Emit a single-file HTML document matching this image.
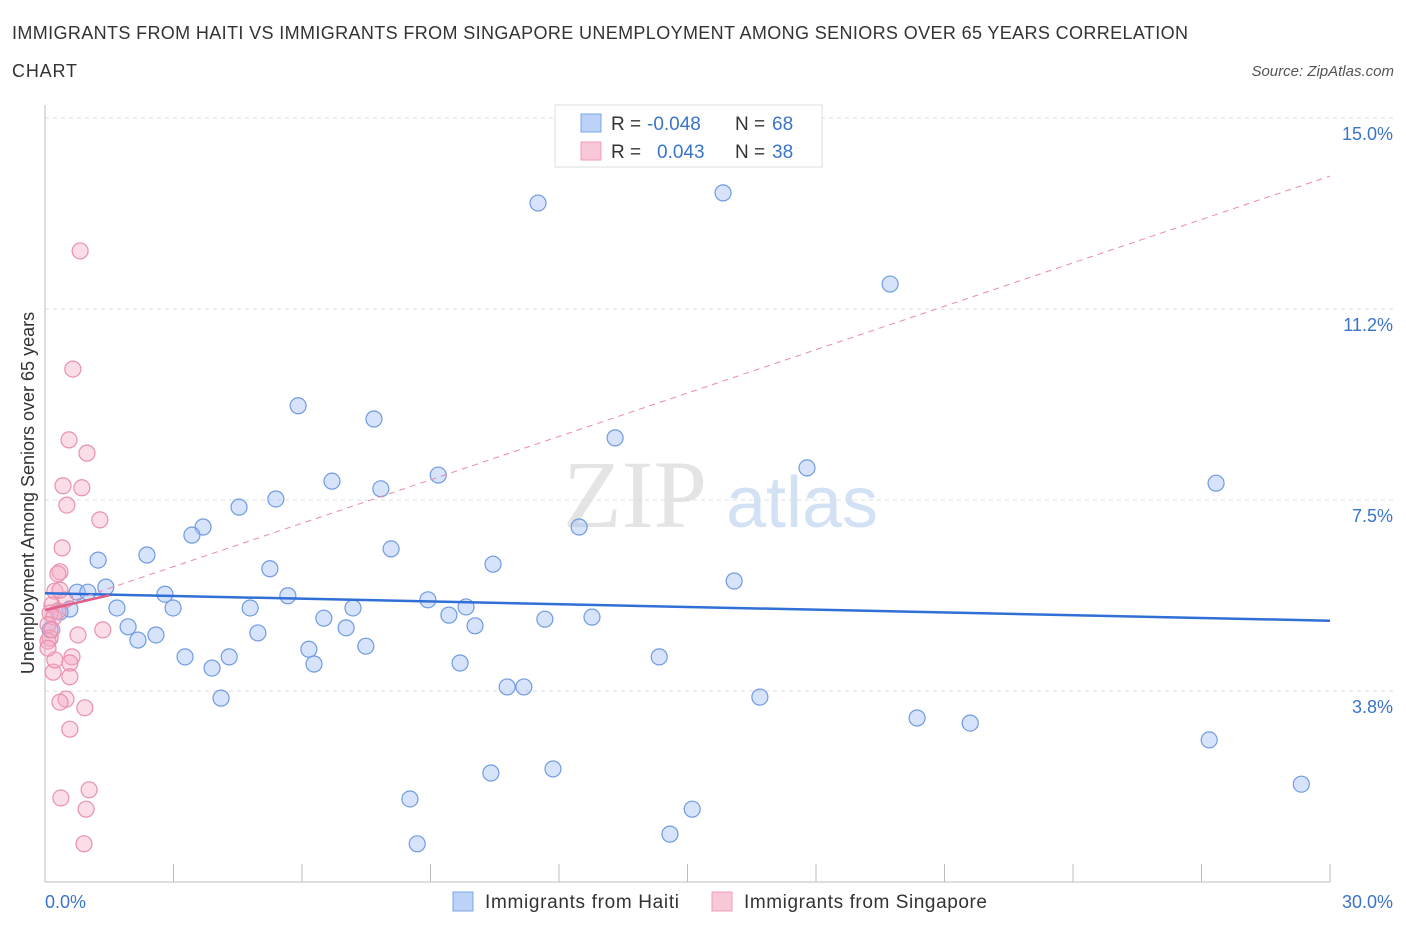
<!DOCTYPE html>
<html><head><meta charset="utf-8"><style>
body{margin:0;background:#fff;font-family:"Liberation Sans",sans-serif;}
</style></head><body>
<svg width="1406" height="930" xmlns="http://www.w3.org/2000/svg" style="font-family:'Liberation Sans',sans-serif">
<text x="12" y="39" font-size="18" fill="#333" textLength="1176" lengthAdjust="spacing">IMMIGRANTS FROM HAITI VS IMMIGRANTS FROM SINGAPORE UNEMPLOYMENT AMONG SENIORS OVER 65 YEARS CORRELATION</text>
<text x="12" y="77" font-size="18" fill="#333" textLength="65">CHART</text>
<text x="1394" y="76" font-size="15" fill="#555" font-style="italic" text-anchor="end">Source: ZipAtlas.com</text>
<text x="635" y="527" font-size="96" fill="#e4e4e4" font-family="Liberation Serif" text-anchor="middle">ZIP</text>
<text x="802" y="527" font-size="72" fill="#d3e1f4" text-anchor="middle">atlas</text>
<g id="grid"></g>
<line x1="45" y1="105" x2="45" y2="882" stroke="#bbb"/>
<line x1="45" y1="882" x2="1330" y2="882" stroke="#bbb"/>
<g id="ticks"></g>
<text x="28" y="493" font-size="18" fill="#333" text-anchor="middle" transform="rotate(-90 28 493)" dy="6">Unemployment Among Seniors over 65 years</text>
<text x="45" y="908" font-size="18" fill="#3a74c9">0.0%</text>
<text x="1393" y="908" font-size="18" fill="#3a74c9" text-anchor="end">30.0%</text>
<g id="pts"></g>
<g id="lines"></g>
<g>
<rect x="555" y="105" width="267" height="62" fill="#fff" stroke="#ddd"/>
<rect x="581" y="114" width="20" height="18" fill="#bcd3f7" stroke="#7aa4e4"/>
<rect x="581" y="142" width="20" height="18" fill="#f9c8d7" stroke="#ee9db8"/>
<text x="611" y="130" font-size="19" fill="#333">R =</text>
<text x="647" y="130" font-size="19" fill="#3a74c9">-0.048</text>
<text x="735" y="130" font-size="19" fill="#333">N =</text>
<text x="772" y="130" font-size="19" fill="#3a74c9">68</text>
<text x="611" y="158" font-size="19" fill="#333">R =</text>
<text x="657" y="158" font-size="19" fill="#3a74c9">0.043</text>
<text x="735" y="158" font-size="19" fill="#333">N =</text>
<text x="772" y="158" font-size="19" fill="#3a74c9">38</text>
</g>
<g>
<rect x="453" y="892" width="20" height="19" fill="#bcd3f7" stroke="#7aa4e4"/>
<text x="485" y="908" font-size="19" fill="#333" textLength="194">Immigrants from Haiti</text>
<rect x="712" y="892" width="20" height="19" fill="#f9c8d7" stroke="#ee9db8"/>
<text x="744" y="908" font-size="19" fill="#333" textLength="243">Immigrants from Singapore</text>
</g>
</svg>
<script>
const yTicks=[3.75,7.5,11.25,15];
const yTickLabels=["3.8%","7.5%","11.2%","15.0%"];
const xTicks=[0,3,6,9,12,15,18,21,24,27,30];
const haitiX=[11.51,15.83,19.73,5.91,7.68,13.31,17.79,27.34,9.18,6.70,7.84,5.39,4.53,3.69,3.43,12.47,8.08,2.38,1.24,10.46,5.25,16.09,1.42,0.75,1.00,2.80,5.67,8.94,1.68,2.99,4.79,7.19,9.83,0.58,0.35,9.43,6.51,11.67,12.77,10.04,1.94,7.03,2.59,2.17,4.97,7.49,6.16,3.27,4.30,14.34,3.90,6.28,9.69,4.11,10.79,11.18,16.69,20.36,21.60,27.18,10.41,11.86,8.52,15.11,29.33,14.59,8.69,0.12];
const haitiY=[13.33,13.53,11.74,9.35,9.09,8.72,8.13,7.83,7.99,7.87,7.72,7.52,7.36,6.97,6.81,6.97,6.54,6.42,6.32,6.24,6.15,5.91,5.79,5.69,5.69,5.65,5.62,5.54,5.38,5.38,5.38,5.38,5.40,5.36,5.30,5.24,5.18,5.16,5.20,5.03,5.01,4.99,4.85,4.75,4.89,4.63,4.57,4.42,4.42,4.42,4.20,4.28,4.30,3.61,3.83,3.83,3.63,3.22,3.12,2.79,2.14,2.22,1.63,1.43,1.92,0.94,0.75,4.95];
const singX=[0.82,0.65,0.56,0.98,0.42,0.86,0.51,1.28,0.40,0.35,0.30,0.23,0.47,0.16,0.30,0.12,0.21,0.07,0.77,1.35,0.12,0.07,0.63,0.58,0.19,0.58,0.49,0.35,0.93,0.58,1.03,0.37,0.96,0.91,0.23,0.16,0.07,0.35];
const singY=[12.39,10.07,8.68,8.42,7.78,7.74,7.40,7.11,6.56,6.09,6.05,5.71,5.54,5.44,5.32,5.28,5.20,5.05,4.85,4.95,4.79,4.73,4.42,4.30,4.12,4.03,3.59,3.53,3.42,3.00,1.81,1.65,1.43,0.75,4.36,4.95,4.59,5.73];
const haitiTrend=[5.67,5.13];
const singTrend=[5.34,13.86];
const singSolid=[5.34,5.63];
const singSolidEnd=1.5;
const NS="http://www.w3.org/2000/svg";
const X=v=>45+v/30*1285, Y=v=>882-v/15*764;
function mk(t,a,p){const e=document.createElementNS(NS,t);for(const k in a)e.setAttribute(k,a[k]);p.appendChild(e);return e;}
const grid=document.getElementById('grid'),ticks=document.getElementById('ticks'),pts=document.getElementById('pts'),lines=document.getElementById('lines');
yTicks.forEach((v,i)=>{
const l=mk('line',{x1:45,x2:1394,y1:Y(v),y2:Y(v),stroke:'#ddd','stroke-dasharray':'4,4'},grid);


const t=mk('text',{x:1393,y:Y(v)+22,'font-size':18,fill:'#3a74c9','text-anchor':'end'},grid);
t.textContent=yTickLabels[i];


});
xTicks.forEach(v=>{
const l=mk('line',{x1:X(v),x2:X(v),y1:864,y2:882,stroke:'#bbb'},ticks);


});
haitiX.forEach((x,i)=>{
const c=mk('circle',{cx:X(x),cy:Y(haitiY[i]),r:8,fill:'rgba(164,194,244,0.45)',stroke:'#6f9be0','stroke-width':1.2},pts);


});
singX.forEach((x,i)=>{
const c=mk('circle',{cx:X(x),cy:Y(singY[i]),r:8,fill:'rgba(244,170,195,0.4)',stroke:'#e890ae','stroke-width':1.2},pts);


});
const l1=mk('line',{x1:X(0),y1:Y(haitiTrend[0]),x2:X(30),y2:Y(haitiTrend[1]),stroke:'#2f6fd6','stroke-width':2.5},lines);


const l2=mk('line',{x1:X(0),y1:Y(singTrend[0]),x2:X(30),y2:Y(singTrend[1]),stroke:'#e98aa9','stroke-width':1,'stroke-dasharray':'6,5'},lines);


const l3=mk('line',{x1:X(0),y1:Y(singSolid[0]),x2:X(singSolidEnd),y2:Y(singSolid[1]),stroke:'#e0608a','stroke-width':2.5},lines);


</script>
</body></html>
